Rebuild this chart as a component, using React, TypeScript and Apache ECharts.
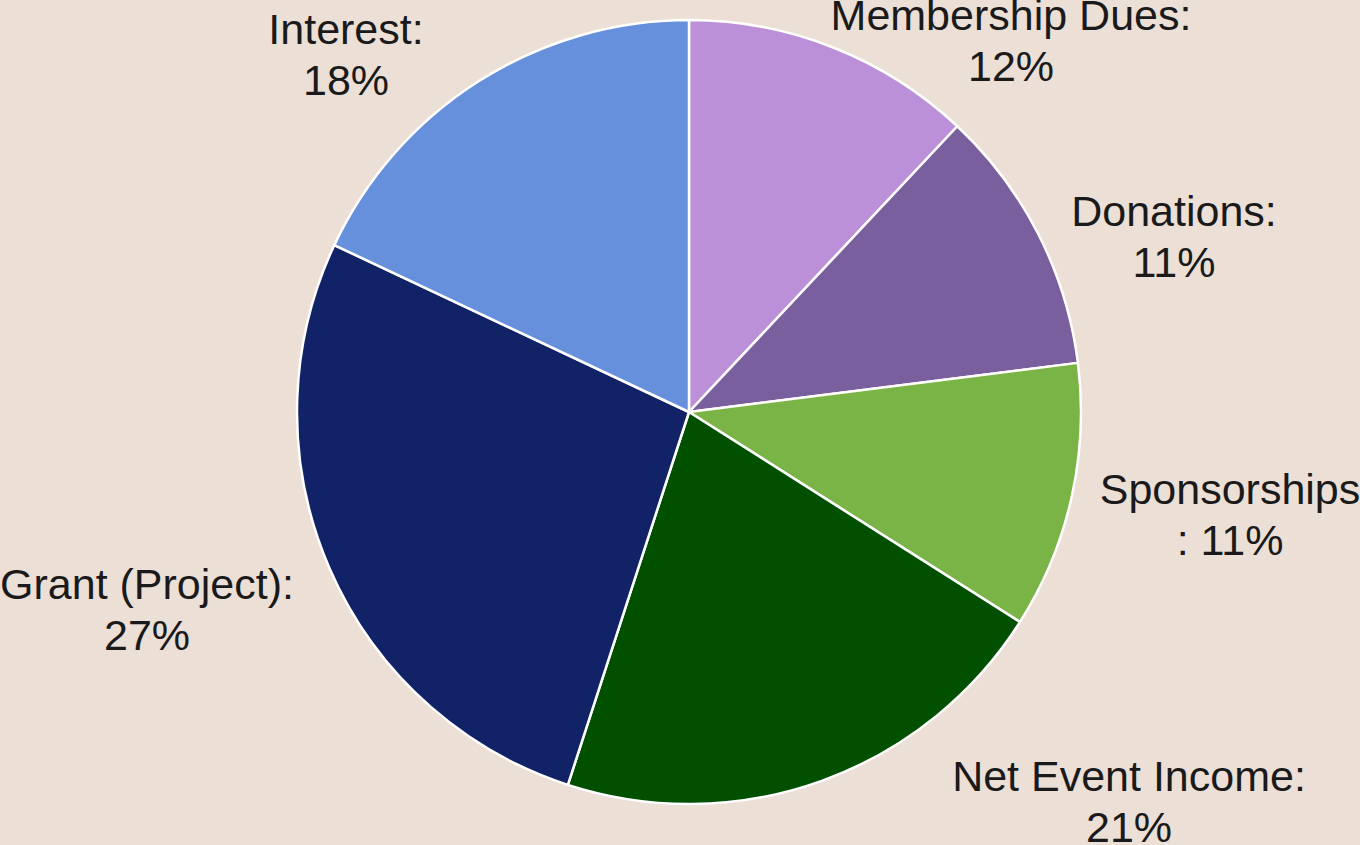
import React, { useEffect, useRef } from "react";
import * as echarts from "echarts";

const categories = [
  "Membership Dues",
  "Donations",
  "Sponsorships",
  "Net Event Income",
  "Grant (Project)",
  "Interest",
];
const values = [12, 11, 11, 21, 27, 18];
const colors = ["#BC90D8", "#7A5F9E", "#7BB446", "#005000", "#122266", "#6690DC"];
const labelFormats = ["{b}:\n{d}%", "{b}:\n{d}%", "{b}\n: {d}%", "{b}:\n{d}%", "{b}:\n{d}%", "{b}:\n{d}%"];
// label anchor positions (layout only)
const labelPos: [number, number][] = [
  [1011, 40],
  [1174, 236],
  [1230, 514],
  [1129, 801],
  [147, 609],
  [346, 54],
];

export default function App() {
  const ref = useRef<HTMLDivElement>(null);
  useEffect(() => {
    document.body.style.margin = "0";
    if (!ref.current) return;
    const chart = echarts.init(ref.current, undefined, { renderer: "svg" });
    chart.setOption({
      animation: false,
      backgroundColor: "#EBDFD6",
      series: [
        {
          type: "pie",
          center: [689, 412],
          radius: 392,
          startAngle: 90,
          clockwise: true,
          percentPrecision: 0,
          avoidLabelOverlap: false,
          itemStyle: { borderColor: "#ffffff", borderWidth: 2.5 },
          label: {
            show: true,
            position: "outside",
            fontFamily: "'Liberation Sans', Arial, sans-serif",
            fontSize: 43,
            lineHeight: 51,
            color: "#1a1a1a",
            align: "center",
          },
          labelLine: { show: false },
          labelLayout: (params: any) => {
            const p = labelPos[params.dataIndex];
            return { x: p[0], y: p[1], align: "center", verticalAlign: "middle" };
          },
          emphasis: { disabled: true },
          data: categories.map((name, i) => ({
            name,
            value: values[i],
            itemStyle: { color: colors[i] },
            label: { formatter: labelFormats[i] },
          })),
        },
      ],
    });
    return () => chart.dispose();
  }, []);
  return <div ref={ref} style={{ width: 1360, height: 845 }} />;
}
